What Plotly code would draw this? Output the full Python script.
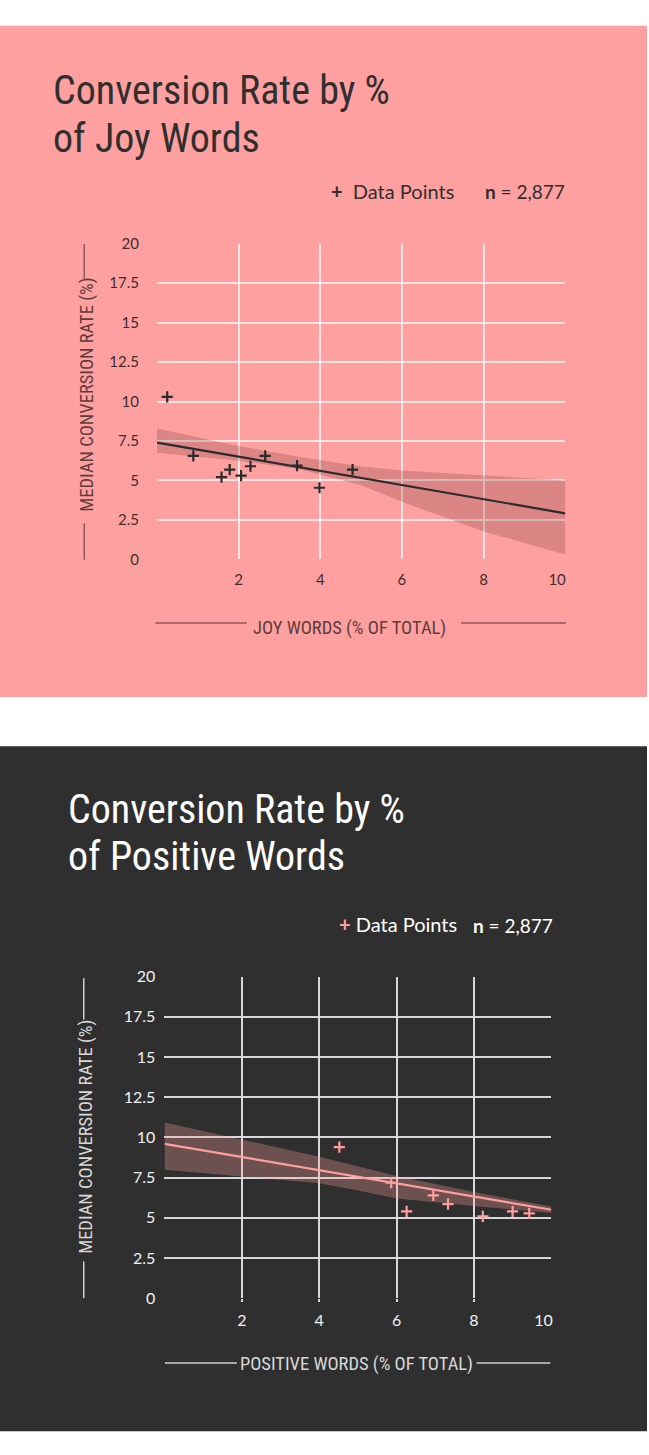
import plotly.graph_objects as go

W, H = 649, 1455

# ---------------- data ----------------
# Top chart: Joy words
joy_x = [0.25, 0.89, 1.58, 1.78, 2.06, 2.29, 2.65, 3.43, 3.98, 4.79]
joy_y = [10.3, 6.56, 5.21, 5.69, 5.31, 5.9, 6.56, 5.94, 4.54, 5.69]
joy_fit_x = [0, 10]
joy_fit_y = [7.4, 2.92]
joy_band_x = [0, 2, 3.46, 5, 6, 8, 10]
joy_band_lo = [6.75, 6.25, 5.73, 4.69, 3.65, 1.77, 0.31]
joy_band_hi = [8.29, 7.19, 6.5, 5.88, 5.63, 5.31, 5.0]

# Bottom chart: Positive words
pos_x = [4.52, 5.86, 6.26, 6.95, 7.33, 8.23, 9.0, 9.43]
pos_y = [9.39, 7.18, 5.40, 6.40, 5.85, 5.09, 5.40, 5.28]
pos_fit_x = [0, 10]
pos_fit_y = [9.6, 5.5]
pos_band_x = [0, 2, 4, 5, 6, 8, 10]
pos_band_lo = [7.99, 7.55, 7.15, 6.7, 6.2, 5.74, 5.3]
pos_band_hi = [10.92, 9.88, 8.8, 8.2, 7.6, 6.6, 5.7]

y_grid = [0, 2.5, 5, 7.5, 10, 12.5, 15, 17.5]
y_ticks = [0, 2.5, 5, 7.5, 10, 12.5, 15, 17.5, 20]
y_ticktext = ["0", "2.5", "5", "7.5", "10", "12.5", "15", "17.5", "20"]
x_grid = [2, 4, 6, 8]
x_ticks = [2, 4, 6, 8, 9.8]
x_ticktext = ["2", "4", "6", "8", "10"]

# ---------------- style ----------------
PINK_BG = "#FFA0A0"
DARK_BG = "#2F2F2F"
PINK = "#FF9E9E"
INK = "#2B2B2B"
TITLE_FONT = "Liberation Sans Narrow, Arial Narrow, Roboto Condensed, Roboto, sans-serif"
NUM_FONT = "Lato, Open Sans, sans-serif"


def px(x):
    return x / W


def py(y):
    return 1 - y / H


fig = go.Figure()

# ---- top chart traces ----
fig.add_trace(go.Scatter(x=joy_band_x, y=joy_band_lo, mode="lines", line=dict(width=0),
                         hoverinfo="skip", showlegend=False, xaxis="x", yaxis="y"))
fig.add_trace(go.Scatter(x=joy_band_x, y=joy_band_hi, mode="lines", line=dict(width=0),
                         fill="tonexty", fillcolor="rgba(110,50,50,0.25)",
                         hoverinfo="skip", showlegend=False, xaxis="x", yaxis="y"))
fig.add_trace(go.Scatter(x=joy_fit_x, y=joy_fit_y, mode="lines", line=dict(color=INK, width=2.2),
                         showlegend=False, xaxis="x", yaxis="y"))
fig.add_trace(go.Scatter(x=joy_x, y=joy_y, mode="markers",
                         marker=dict(symbol="cross-thin", size=8, line=dict(color=INK, width=2.2)),
                         showlegend=False, xaxis="x", yaxis="y"))
fig.add_trace(go.Scatter(x=[], y=[], xaxis="x2", yaxis="y2", showlegend=False))

# ---- bottom chart traces ----
fig.add_trace(go.Scatter(x=pos_band_x, y=pos_band_lo, mode="lines", line=dict(width=0),
                         hoverinfo="skip", showlegend=False, xaxis="x3", yaxis="y3"))
fig.add_trace(go.Scatter(x=pos_band_x, y=pos_band_hi, mode="lines", line=dict(width=0),
                         fill="tonexty", fillcolor="rgba(255,160,160,0.30)",
                         hoverinfo="skip", showlegend=False, xaxis="x3", yaxis="y3"))
fig.add_trace(go.Scatter(x=pos_fit_x, y=pos_fit_y, mode="lines", line=dict(color=PINK, width=2.2),
                         showlegend=False, xaxis="x3", yaxis="y3"))
fig.add_trace(go.Scatter(x=pos_x, y=pos_y, mode="markers",
                         marker=dict(symbol="cross-thin", size=8, line=dict(color=PINK, width=2.2)),
                         showlegend=False, xaxis="x3", yaxis="y3"))
fig.add_trace(go.Scatter(x=[], y=[], xaxis="x4", yaxis="y4", showlegend=False))

# ---- axes ----
top_xd = [px(157.5), px(567)]
top_yd = [py(556.7), py(236.7)]
bot_xd = [px(165), px(553)]
bot_yd = [py(1305.3), py(979.3)]

grid_top = "rgba(255,235,235,0.9)"
grid_bot = "rgba(225,225,225,0.95)"

layout_axes = dict(
    xaxis=dict(domain=top_xd, anchor="y", range=[0, 10], tickvals=x_grid, showticklabels=False,
               showgrid=True, gridcolor=grid_top, gridwidth=1.5, zeroline=False, showline=False),
    yaxis=dict(domain=top_yd, anchor="x", range=[0, 20], tickvals=y_grid, showticklabels=False,
               showgrid=True, gridcolor=grid_top, gridwidth=1.5, zeroline=False, showline=False),
    xaxis2=dict(overlaying="x", anchor="y", range=[0, 10], tickvals=x_ticks, ticktext=x_ticktext,
                showgrid=False, zeroline=False, ticks="outside", ticklen=7, tickcolor="rgba(0,0,0,0)",
                tickfont=dict(family=NUM_FONT, size=15, color="#3d2d2d")),
    yaxis2=dict(overlaying="y", anchor="x", range=[0, 20], tickvals=y_ticks, ticktext=y_ticktext,
                showgrid=False, zeroline=False, ticks="outside", ticklen=14, tickcolor="rgba(0,0,0,0)",
                tickfont=dict(family=NUM_FONT, size=15, color="#3d2d2d")),
    xaxis3=dict(domain=bot_xd, anchor="y3", range=[0, 10], tickvals=x_grid, showticklabels=False,
                showgrid=True, gridcolor=grid_bot, gridwidth=1.5, zeroline=False, showline=False,
                ticks="outside", ticklen=3, tickcolor=grid_bot, tickwidth=1.5),
    yaxis3=dict(domain=bot_yd, anchor="x3", range=[0, 20], tickvals=y_grid, showticklabels=False,
                showgrid=True, gridcolor=grid_bot, gridwidth=1.5, zeroline=False, showline=False),
    xaxis4=dict(overlaying="x3", anchor="y3", range=[0, 10], tickvals=x_ticks, ticktext=x_ticktext,
                showgrid=False, zeroline=False, ticks="outside", ticklen=8, tickcolor="rgba(0,0,0,0)",
                tickfont=dict(family=NUM_FONT, size=16, color="#f2f2f2")),
    yaxis4=dict(overlaying="y3", anchor="x3", range=[0, 20], tickvals=y_ticks, ticktext=y_ticktext,
                showgrid=False, zeroline=False, ticks="outside", ticklen=5, tickcolor="rgba(0,0,0,0)",
                tickfont=dict(family=NUM_FONT, size=16, color="#f2f2f2")),
)

shapes = [
    dict(type="rect", xref="paper", yref="paper", x0=0, x1=1, y0=py(696), y1=py(16),
         fillcolor=PINK_BG, line=dict(width=0), layer="below"),
    dict(type="rect", xref="paper", yref="paper", x0=0, x1=1, y0=py(1440), y1=py(746),
         fillcolor=DARK_BG, line=dict(width=0), layer="below"),
]

TOP_DECO = "#8C5A5A"
BOT_DECO = "#CFCFCF"
for (x0, x1, y0, c) in [(156, 247.6, 621, TOP_DECO), (462.5, 567.6, 621, TOP_DECO),
                        (165.4, 237.6, 1371, BOT_DECO), (478, 552, 1371, BOT_DECO)]:
    shapes.append(dict(type="line", xref="paper", yref="paper", x0=px(x0), x1=px(x1),
                       y0=py(y0), y1=py(y0), line=dict(color=c, width=1.5)))
for (x0, ya, yb, c) in [(84.5, 237, 272, TOP_DECO), (84.5, 520, 557, TOP_DECO),
                        (84, 981, 1023, BOT_DECO), (84, 1268, 1305, BOT_DECO)]:
    shapes.append(dict(type="line", xref="paper", yref="paper", x0=px(x0), x1=px(x0),
                       y0=py(ya), y1=py(yb), line=dict(color=c, width=1.5)))

annotations = []


def ann(text, x, y, size, color, family, xanchor="left", yanchor="middle", angle=0):
    annotations.append(dict(text=text, x=px(x), y=py(y), xref="paper", yref="paper",
                            showarrow=False, xanchor=xanchor, yanchor=yanchor, textangle=angle,
                            font=dict(size=size, color=color, family=family), align="left"))


# titles
ann("Conversion Rate by %", 51, 82, 40, "#2f2f2f", TITLE_FONT)
ann("of Joy Words", 51, 130, 40, "#2f2f2f", TITLE_FONT)
ann("Conversion Rate by %", 66, 810, 40, "#ffffff", TITLE_FONT)
ann("of Positive Words", 66, 858, 40, "#ffffff", TITLE_FONT)

# legends
ann("<b>+</b>  Data Points", 330, 183, 20, "#2f2f2f", NUM_FONT)
ann("<b>n</b> = 2,877", 484, 184, 19, "#2f2f2f", NUM_FONT)
ann("<span style='color:#FF9E9E'><b>+</b></span> Data Points", 338, 926, 20, "#ffffff", NUM_FONT)
ann("<b>n</b> = 2,877", 472, 928, 19, "#ffffff", NUM_FONT)

# axis titles
ann("JOY WORDS (% OF TOTAL)", 351, 626, 18.5, "#5e3c3c", TITLE_FONT, xanchor="center")
ann("POSITIVE WORDS (% OF TOTAL)", 358, 1372, 18.5, "#d8d8d8", TITLE_FONT, xanchor="center")
ann("MEDIAN CONVERSION RATE (%)", 87, 390, 18.5, "#5e3c3c", TITLE_FONT, xanchor="center", angle=-90)
ann("MEDIAN CONVERSION RATE (%)", 86, 1142, 18.5, "#d8d8d8", TITLE_FONT, xanchor="center", angle=-90)

fig.update_layout(
    width=W, height=H, autosize=False,
    margin=dict(l=0, r=0, t=0, b=0),
    paper_bgcolor="#ffffff", plot_bgcolor="rgba(0,0,0,0)",
    showlegend=False,
    shapes=shapes, annotations=annotations,
    **layout_axes,
)

fig.write_html("out.html", config={"displayModeBar": False})
